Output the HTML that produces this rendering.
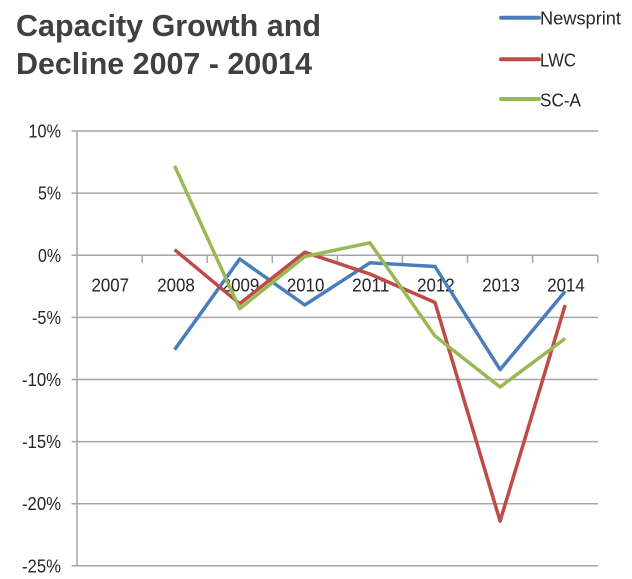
<!DOCTYPE html>
<html>
<head>
<meta charset="utf-8">
<style>
  html, body { margin: 0; padding: 0; background: #ffffff; }
  svg { display: block; }
  text { font-family: "Liberation Sans", sans-serif; }
</style>
</head>
<body>
<svg width="632" height="579" viewBox="0 0 632 579" xmlns="http://www.w3.org/2000/svg">
  <rect x="0" y="0" width="632" height="579" fill="#ffffff"/>

  <!-- Title -->
  <text x="16" y="36" font-size="31" font-weight="bold" fill="#404040" textLength="305" lengthAdjust="spacingAndGlyphs">Capacity Growth and</text>
  <text x="16" y="74" font-size="31" font-weight="bold" fill="#404040" textLength="296" lengthAdjust="spacingAndGlyphs">Decline 2007 - 20014</text>

  <!-- Legend -->
  <line x1="501" y1="17.7" x2="539" y2="17.7" stroke="#4a7ebb" stroke-width="4" stroke-linecap="round"/>
  <text x="540" y="24.5" font-size="18.5" fill="#262626" textLength="81" lengthAdjust="spacingAndGlyphs">Newsprint</text>
  <line x1="501" y1="59.3" x2="539" y2="59.3" stroke="#be4b48" stroke-width="4" stroke-linecap="round"/>
  <text x="540" y="66.5" font-size="18.5" fill="#262626" textLength="36" lengthAdjust="spacingAndGlyphs">LWC</text>
  <line x1="501" y1="99" x2="539" y2="99" stroke="#98b954" stroke-width="4" stroke-linecap="round"/>
  <text x="540" y="106.5" font-size="18.5" fill="#262626" textLength="41" lengthAdjust="spacingAndGlyphs">SC-A</text>

  <!-- Gridlines -->
  <g stroke="#a6a6a6" stroke-width="1.5">
    <line x1="71.5" y1="131" x2="598" y2="131"/>
    <line x1="71.5" y1="193.1" x2="598" y2="193.1"/>
    <line x1="71.5" y1="255.3" x2="598" y2="255.3"/>
    <line x1="71.5" y1="317.4" x2="598" y2="317.4"/>
    <line x1="71.5" y1="379.5" x2="598" y2="379.5"/>
    <line x1="71.5" y1="441.6" x2="598" y2="441.6"/>
    <line x1="71.5" y1="503.7" x2="598" y2="503.7"/>
    <line x1="71.5" y1="565.8" x2="598" y2="565.8"/>
    <!-- Y axis -->
    <line x1="77" y1="131" x2="77" y2="565.8"/>
    <!-- X axis ticks -->
    <line x1="142.1" y1="255.3" x2="142.1" y2="263"/>
    <line x1="207.2" y1="255.3" x2="207.2" y2="263"/>
    <line x1="272.3" y1="255.3" x2="272.3" y2="263"/>
    <line x1="337.4" y1="255.3" x2="337.4" y2="263"/>
    <line x1="402.4" y1="255.3" x2="402.4" y2="263"/>
    <line x1="467.5" y1="255.3" x2="467.5" y2="263"/>
    <line x1="532.6" y1="255.3" x2="532.6" y2="263"/>
    <line x1="597.7" y1="255.3" x2="597.7" y2="263"/>
  </g>

  <!-- Y labels -->
  <g font-size="18.5" fill="#262626">
    <text x="28.5" y="137.5" textLength="32.5" lengthAdjust="spacingAndGlyphs">10%</text>
    <text x="38" y="199.6" textLength="23" lengthAdjust="spacingAndGlyphs">5%</text>
    <text x="38" y="261.8" textLength="23" lengthAdjust="spacingAndGlyphs">0%</text>
    <text x="32" y="323.9" textLength="29" lengthAdjust="spacingAndGlyphs">-5%</text>
    <text x="22" y="386" textLength="39" lengthAdjust="spacingAndGlyphs">-10%</text>
    <text x="22" y="448.1" textLength="39" lengthAdjust="spacingAndGlyphs">-15%</text>
    <text x="22" y="510.2" textLength="39" lengthAdjust="spacingAndGlyphs">-20%</text>
    <text x="22" y="572.3" textLength="39" lengthAdjust="spacingAndGlyphs">-25%</text>
  </g>

  <!-- X labels -->
  <g font-size="18.5" fill="#262626">
    <text x="91.5" y="291.7" textLength="37.5" lengthAdjust="spacingAndGlyphs">2007</text>
    <text x="157.3" y="291.7" textLength="37.5" lengthAdjust="spacingAndGlyphs">2008</text>
    <text x="221.8" y="291.7" textLength="37.5" lengthAdjust="spacingAndGlyphs">2009</text>
    <text x="286.9" y="291.7" textLength="37.5" lengthAdjust="spacingAndGlyphs">2010</text>
    <text x="352" y="291.7" textLength="37.5" lengthAdjust="spacingAndGlyphs">2011</text>
    <text x="417.1" y="291.7" textLength="37.5" lengthAdjust="spacingAndGlyphs">2012</text>
    <text x="482.2" y="291.7" textLength="37.5" lengthAdjust="spacingAndGlyphs">2013</text>
    <text x="547.3" y="291.7" textLength="37.5" lengthAdjust="spacingAndGlyphs">2014</text>
  </g>

  <!-- Series -->
  <g fill="none" stroke-width="3.5" stroke-linejoin="round" stroke-linecap="butt">
    <polyline stroke="#4a7ebb" points="174.6,349.7 239.7,259.0 304.8,305.0 369.9,262.8 435,266.5 500.1,369.6 565.2,291.3"/>
    <polyline stroke="#be4b48" points="174.6,249.7 239.7,303.7 304.8,252.2 369.9,274.0 435,302.5 500.1,521.1 565.2,305.0"/>
    <polyline stroke="#98b954" points="174.6,165.9 239.7,308.7 304.8,256.5 369.9,242.8 435,336.0 500.1,387.0 565.2,338.5"/>
  </g>
</svg>
</body>
</html>
